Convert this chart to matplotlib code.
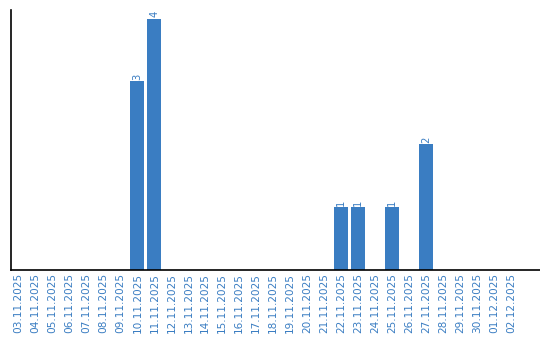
import matplotlib
matplotlib.use("Agg")
import matplotlib.pyplot as plt

dates = ["03.11.2025", "04.11.2025", "05.11.2025", "06.11.2025", "07.11.2025",
         "08.11.2025", "09.11.2025", "10.11.2025", "11.11.2025", "12.11.2025",
         "13.11.2025", "14.11.2025", "15.11.2025", "16.11.2025", "17.11.2025",
         "18.11.2025", "19.11.2025", "20.11.2025", "21.11.2025", "22.11.2025",
         "23.11.2025", "24.11.2025", "25.11.2025", "26.11.2025", "27.11.2025",
         "28.11.2025", "29.11.2025", "30.11.2025", "01.12.2025", "02.12.2025"]
values = [0, 0, 0, 0, 0, 0, 0, 3, 4, 0,
          0, 0, 0, 0, 0, 0, 0, 0, 0, 1,
          1, 0, 1, 0, 2, 0, 0, 0, 0, 0]

color = "#3a7dc2"
fig = plt.figure(figsize=(5.4, 3.4), dpi=100)
ax = fig.add_axes([0.021, 0.206, 0.979, 0.765])
x = list(range(len(dates)))
bars = ax.bar(x, values, width=0.82, color=color)
for xi, v in zip(x, values):
    if v > 0:
        ax.text(xi, v + 0.02, str(v), rotation=90, ha="center", va="bottom",
                fontsize=7.2, color=color)
ax.set_xlim(-0.42, 30.7)
ax.set_ylim(0, 4.14)
ax.set_xticks(x)
ax.set_xticklabels(dates, rotation=90, fontsize=7.6, color=color)
ax.tick_params(axis="x", length=0, pad=2)
ax.set_yticks([])
ax.spines["top"].set_visible(False)
ax.spines["right"].set_visible(False)
ax.spines["left"].set_linewidth(1.2)
ax.spines["bottom"].set_linewidth(1.2)
fig.savefig("out.png", dpi=100)
